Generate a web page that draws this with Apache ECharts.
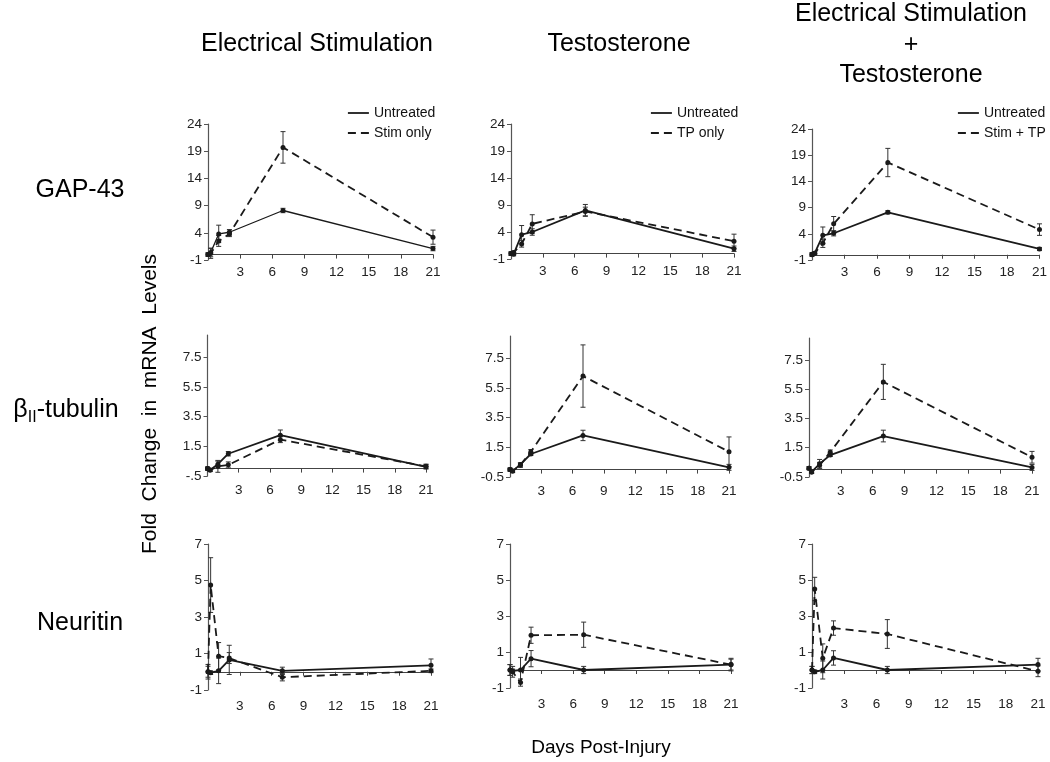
<!DOCTYPE html>
<html><head><meta charset="utf-8">
<script src="https://cdn.jsdelivr.net/npm/echarts@6/dist/echarts.min.js"></script>
<style>html,body{margin:0;padding:0;background:#fff}#c{width:1050px;height:762px}</style>
</head><body><div id="c"></div>
<script>
// ---------- DATA ----------
const days = [0, 0.25, 1, 2, 7, 21];
const dayTicks = [3, 6, 9, 12, 15, 18, 21];
const gapTicks = [-1, 4, 9, 14, 19, 24];
const tubTicks = [-0.5, 1.5, 3.5, 5.5, 7.5];
const neuTicks = [-1, 1, 3, 5, 7];

const colTitles = ['Electrical Stimulation', 'Testosterone'];
const col3Title = ['Electrical Stimulation', '+', 'Testosterone'];
const rowLabels = ['GAP-43', 'βII-tubulin', 'Neuritin'];
const treatNames = ['Stim only', 'TP only', 'Stim + TP'];

// GAP-43
const gapStimUntreated     = [0, 0.4, 3.8, 4.1, 8.1, 1.1];
const gapStimUntreatedErr  = [0.3, 0.8, 1.6, 0.5, 0.4, 0.4];
const gapStimTreated       = [0, 0.2, 2.5, 3.8, 19.7, 3.2];
const gapStimTreatedErr    = [0.3, 0.9, 1.0, 0.5, 2.9, 1.3];
const gapTpUntreated       = [0, -0.1, 3.5, 4.0, 8.0, 0.9];
const gapTpUntreatedErr    = [0.3, 0.3, 1.7, 0.6, 1.1, 0.5];
const gapTpTreated         = [0, 0.2, 1.8, 5.5, 7.8, 2.3];
const gapTpTreatedErr      = [0.3, 0.3, 0.6, 1.7, 0.8, 1.3];
const gapBothUntreated     = [0, 0.3, 3.7, 4.1, 8.1, 1.1];
const gapBothUntreatedErr  = [0.3, 0.3, 1.6, 0.5, 0.3, 0.3];
const gapBothTreated       = [0.1, 0.3, 2.2, 5.9, 17.6, 4.8];
const gapBothTreatedErr    = [0.3, 0.3, 0.8, 1.4, 2.7, 1.1];

// βII-tubulin
const tubStimUntreated     = [0, -0.1, 0.3, 1.0, 2.25, 0.12];
const tubStimUntreatedErr  = [0.1, 0.1, 0.2, 0.15, 0.35, 0.15];
const tubStimTreated       = [0, -0.1, 0.15, 0.25, 1.95, 0.15];
const tubStimTreatedErr    = [0.1, 0.1, 0.4, 0.2, 0.2, 0.15];
const tubTpUntreated       = [0, -0.1, 0.35, 1.05, 2.3, 0.15];
const tubTpUntreatedErr    = [0.1, 0.1, 0.1, 0.1, 0.35, 0.2];
const tubTpTreated         = [0, -0.1, 0.3, 1.2, 6.3, 1.2];
const tubTpTreatedErr      = [0.1, 0.1, 0.15, 0.15, 2.1, 1.0];
const tubBothUntreated     = [0.1, -0.15, 0.4, 1.0, 2.3, 0.15];
const tubBothUntreatedErr  = [0.1, 0.1, 0.3, 0.1, 0.4, 0.2];
const tubBothTreated       = [0.1, -0.15, 0.3, 1.2, 6.0, 0.85];
const tubBothTreatedErr    = [0.1, 0.1, 0.2, 0.15, 1.2, 0.4];

// Neuritin
const neuStimUntreated     = [0, -0.05, 0.05, 0.65, 0.05, 0.35];
const neuStimUntreatedErr  = [0.4, 0.1, 0.7, 0.8, 0.2, 0.35];
const neuStimTreated       = [0, 4.75, 0.85, 0.75, -0.3, 0.05];
const neuStimTreatedErr    = [0.3, 1.5, 0.75, 0.3, 0.2, 0.1];
const neuTpUntreated       = [0, -0.05, 0, 0.63, 0, 0.3];
const neuTpUntreatedErr    = [0.3, 0.1, 0.7, 0.45, 0.2, 0.35];
const neuTpTreated         = [0, -0.1, -0.7, 1.93, 1.96, 0.3];
const neuTpTreatedErr      = [0.3, 0.3, 0.2, 0.45, 0.7, 0.3];
const neuBothUntreated     = [0, -0.1, 0, 0.67, 0, 0.3];
const neuBothUntreatedErr  = [0.2, 0.1, 0.5, 0.4, 0.2, 0.35];
const neuBothTreated       = [0, 4.5, 0.65, 2.33, 2.0, -0.07];
const neuBothTreatedErr    = [0.2, 0.65, 0.8, 0.4, 0.8, 0.3];

// ---------- LAYOUT ----------
const FONT = 'Liberation Sans, Arial, sans-serif';
const INK = '#1a1a1a';
const panels = [
  {g:{left:208, top:124, width:225, height:136}, min:-1, max:24, ticks:gapTicks, u:gapStimUntreated, ue:gapStimUntreatedErr, t:gapStimTreated, te:gapStimTreatedErr, tn:treatNames[0], xm:5, uw:1.3},
  {g:{left:511, top:124, width:223, height:135}, min:-1, max:24, ticks:gapTicks, u:gapTpUntreated, ue:gapTpUntreatedErr, t:gapTpTreated, te:gapTpTreatedErr, tn:treatNames[1], xm:5},
  {g:{left:812, top:129, width:229, height:131}, min:-1, max:24, ticks:gapTicks, u:gapBothUntreated, ue:gapBothUntreatedErr, t:gapBothTreated, te:gapBothTreatedErr, tn:treatNames[2], xm:5},
  {g:{left:207.5, top:335, width:218.5, height:141}, min:-0.5, max:9, ticks:tubTicks, u:tubStimUntreated, ue:tubStimUntreatedErr, t:tubStimTreated, te:tubStimTreatedErr, tn:treatNames[0], xm:7, short:true},
  {g:{left:510, top:336, width:219, height:141}, min:-0.5, max:9, ticks:tubTicks, u:tubTpUntreated, ue:tubTpUntreatedErr, t:tubTpTreated, te:tubTpTreatedErr, tn:treatNames[1], xm:7},
  {g:{left:809, top:338, width:223, height:139}, min:-0.5, max:9, ticks:tubTicks, u:tubBothUntreated, ue:tubBothUntreatedErr, t:tubBothTreated, te:tubBothTreatedErr, tn:treatNames[2], xm:7},
  {g:{left:208, top:544, width:223, height:146}, min:-1, max:7, ticks:neuTicks, u:neuStimUntreated, ue:neuStimUntreatedErr, t:neuStimTreated, te:neuStimTreatedErr, tn:treatNames[0], xm:9},
  {g:{left:510, top:544, width:221, height:144}, min:-1, max:7, ticks:neuTicks, u:neuTpUntreated, ue:neuTpUntreatedErr, t:neuTpTreated, te:neuTpTreatedErr, tn:treatNames[1], xm:9},
  {g:{left:812, top:544, width:226, height:144}, min:-1, max:7, ticks:neuTicks, u:neuBothUntreated, ue:neuBothUntreatedErr, t:neuBothTreated, te:neuBothTreatedErr, tn:treatNames[2], xm:9}
];

function renderErr(params, api) {
  const x = api.value(0), y = api.value(1), e = api.value(2);
  const top = api.coord([x, y + e]);
  const bot = api.coord([x, y - e]);
  const c = 2.5;
  const st = {stroke:'#333', lineWidth:1};
  return {type:'group', children:[
    {type:'line', shape:{x1:top[0], y1:top[1], x2:bot[0], y2:bot[1]}, style:st},
    {type:'line', shape:{x1:top[0]-c, y1:top[1], x2:top[0]+c, y2:top[1]}, style:st},
    {type:'line', shape:{x1:bot[0]-c, y1:bot[1], x2:bot[0]+c, y2:bot[1]}, style:st}
  ]};
}

const grids = [], xAxes = [], yAxes = [], series = [];
panels.forEach((p, i) => {
  grids.push(Object.assign({containLabel:false}, p.g));
  xAxes.push({
    type:'value', gridIndex:i, min:0, max:21,
    axisLine:{show:true, onZero:true, lineStyle:{color:'#444', width:1.2}},
    axisTick:{show:true, length:4, customValues:dayTicks, lineStyle:{color:'#444'}},
    axisLabel:{customValues:dayTicks, margin:p.xm, fontSize:13.5, color:'#222', fontFamily:FONT},
    splitLine:{show:false}
  });
  yAxes.push({
    type:'value', gridIndex:i, min:p.min, max:p.max,
    axisLine:{show:true, onZero:false, lineStyle:{color:'#555', width:1.2}},
    axisTick:{show:true, length:4, customValues:p.ticks, lineStyle:{color:'#555'}},
    axisLabel:{customValues:p.ticks, margin:6, fontSize:13.5, color:'#222', fontFamily:FONT,
      formatter: v => (p.short && v === -0.5) ? '-.5' : String(v)},
    splitLine:{show:false}
  });
  const mk = (vals) => days.map((d, k) => [d, vals[k]]);
  const mkE = (vals, errs) => days.map((d, k) => [d, vals[k], errs[k]]);
  series.push({type:'custom', name:'err-u-'+i, xAxisIndex:i, yAxisIndex:i, renderItem:renderErr,
    data:mkE(p.u, p.ue), encode:{x:0, y:1}, silent:true, z:2});
  series.push({type:'custom', name:'err-t-'+i, xAxisIndex:i, yAxisIndex:i, renderItem:renderErr,
    data:mkE(p.t, p.te), encode:{x:0, y:1}, silent:true, z:2});
  series.push({type:'line', name:'Untreated', xAxisIndex:i, yAxisIndex:i, data:mk(p.u),
    symbol:'circle', symbolSize:5, showAllSymbol:true, itemStyle:{color:INK},
    lineStyle:{color:INK, width:p.uw || 1.8, type:'solid'}, z:3});
  series.push({type:'line', name:p.tn, xAxisIndex:i, yAxisIndex:i, data:mk(p.t),
    symbol:'circle', symbolSize:5, showAllSymbol:true, itemStyle:{color:INK},
    lineStyle:{color:INK, width:1.8, type:[8, 5]}, z:3});
});

const legendBase = {orient:'vertical', top:106, itemWidth:21, itemHeight:14, itemGap:6, padding:0,
  selectedMode:false, itemStyle:{opacity:0}, lineStyle:{width:1.8}, textStyle:{fontSize:14, color:'#111', fontFamily:FONT}};
const legends = [
  Object.assign({}, legendBase, {left:347, data:['Untreated', treatNames[0]]}),
  Object.assign({}, legendBase, {left:650, data:['Untreated', treatNames[1]]}),
  Object.assign({}, legendBase, {left:957, data:['Untreated', treatNames[2]]})
];

const T = (x, y, text, size, extra) => Object.assign({type:'text', x:x, y:y, silent:true,
  style:{text:text, fontSize:size, fontFamily:FONT, fill:'#000', align:'center', verticalAlign:'middle'}}, extra || {});

const graphics = [
  T(317, 44, colTitles[0], 25),
  T(619, 44, colTitles[1], 25),
  T(911, 14, col3Title[0], 25),
  T(911, 45, col3Title[1], 25),
  T(911, 75, col3Title[2], 25),
  T(80, 190, rowLabels[0], 25),
  {type:'text', x:66, y:410, silent:true, style:{text:'{b|β}{s|II}{b|-tubulin}', align:'center', verticalAlign:'middle',
    fill:'#000', fontFamily:FONT,
    rich:{b:{fontSize:25, fontFamily:FONT, lineHeight:32, fill:'#000'}, s:{fontSize:16, fontFamily:FONT, lineHeight:16, verticalAlign:'bottom', fill:'#000'}}}},
  T(80, 623, rowLabels[2], 25),
  T(150, 404, 'Fold  Change  in  mRNA  Levels', 21, {rotation: Math.PI / 2}),
  T(601, 748, 'Days Post-Injury', 19)
];

const chart = echarts.init(document.getElementById('c'), null, {renderer:'canvas'});
chart.setOption({
  animation:false,
  backgroundColor:'#fff',
  grid:grids, xAxis:xAxes, yAxis:yAxes, series:series,
  legend:legends,
  graphic:graphics
});
</script></body></html>
